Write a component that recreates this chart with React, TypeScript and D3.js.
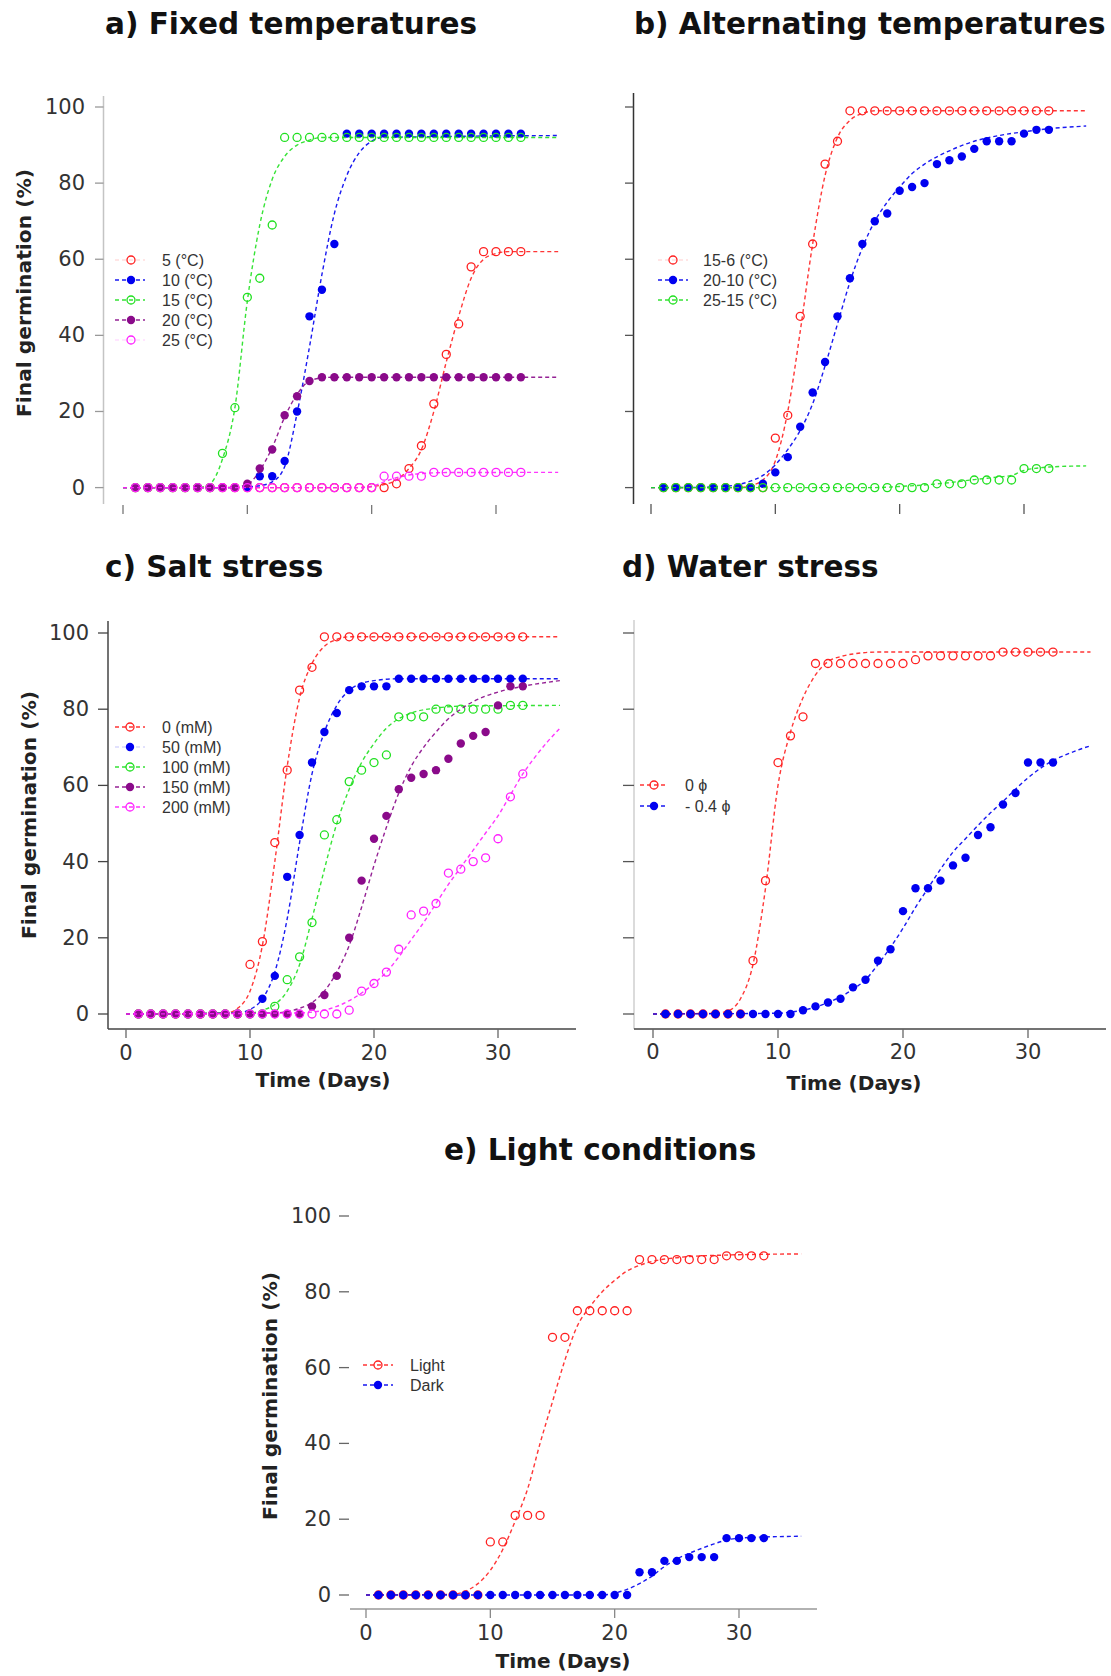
import React, { useLayoutEffect } from 'react'
import * as d3 from 'd3'

// observation days (x of every point)
const days = [1, 2, 3, 4, 5, 6, 7, 8, 9, 10, 11, 12, 13, 14, 15, 16, 17, 18, 19, 20, 21, 22, 23, 24, 25, 26, 27, 28, 29, 30, 31, 32]
const yTicks = [0, 20, 40, 60, 80, 100]
const xTicks = [0, 10, 20, 30]

// a) fixed temperatures
const fixedLabels = ['5 (°C)', '10 (°C)', '15 (°C)', '20 (°C)', '25 (°C)']
const fixed5 = [0, 0, 0, 0, 0, 0, 0, 0, 0, 0, 0, 0, 0, 0, 0, 0, 0, 0, 0, 0, 0, 1, 5, 11, 22, 35, 43, 58, 62, 62, 62, 62]
const fixed10 = [0, 0, 0, 0, 0, 0, 0, 0, 0, 0, 3, 3, 7, 20, 45, 52, 64, 93, 93, 93, 93, 93, 93, 93, 93, 93, 93, 93, 93, 93, 93, 93]
const fixed15 = [0, 0, 0, 0, 0, 0, 0, 9, 21, 50, 55, 69, 92, 92, 92, 92, 92, 92, 92, 92, 92, 92, 92, 92, 92, 92, 92, 92, 92, 92, 92, 92]
const fixed20 = [0, 0, 0, 0, 0, 0, 0, 0, 0, 1, 5, 10, 19, 24, 28, 29, 29, 29, 29, 29, 29, 29, 29, 29, 29, 29, 29, 29, 29, 29, 29, 29]
const fixed25 = [0, 0, 0, 0, 0, 0, 0, 0, 0, 0, 0, 0, 0, 0, 0, 0, 0, 0, 0, 0, 3, 3, 3, 3, 4, 4, 4, 4, 4, 4, 4, 4]
const fitFixed5 = [[0, 0], [19, 0], [20, 0.3], [21, 0.8], [22, 2], [23, 5], [24, 10], [25, 20], [26, 33], [27, 45], [28, 55], [29, 60], [30, 61.5], [31, 62], [35, 62]]
const fitFixed10 = [[0, 0], [9, 0], [10, 0.2], [11, 0.5], [12, 1.5], [13, 5.5], [14, 19.5], [15, 37], [16, 56], [17, 72], [18, 82], [19, 88], [20, 91], [21, 92], [35, 92.5]]
const fitFixed15 = [[0, 0], [6, 0], [7, 1], [8, 7.5], [9, 21], [10, 49], [11, 69], [12, 81], [13, 87], [14, 90], [15, 91.3], [16, 92], [35, 92]]
const fitFixed20 = [[0, 0], [8, 0], [9, 0.2], [10, 0.8], [11, 4.5], [12, 10.5], [13, 18.5], [14, 24.5], [15, 28], [16, 28.8], [17, 29], [35, 29]]
const fitFixed25 = [[0, 0], [19, 0], [20, 0.3], [21, 1.5], [22, 2.6], [23, 3.3], [24, 3.7], [26, 3.95], [35, 4]]

// b) alternating temperatures
const altLabels = ['15-6 (°C)', '20-10 (°C)', '25-15 (°C)']
const alt15 = [0, 0, 0, 0, 0, 0, 0, 0, 0, 13, 19, 45, 64, 85, 91, 99, 99, 99, 99, 99, 99, 99, 99, 99, 99, 99, 99, 99, 99, 99, 99, 99]
const alt20 = [0, 0, 0, 0, 0, 0, 0, 0, 1, 4, 8, 16, 25, 33, 45, 55, 64, 70, 72, 78, 79, 80, 85, 86, 87, 89, 91, 91, 91, 93, 94, 94]
const alt25 = [0, 0, 0, 0, 0, 0, 0, 0, 0, 0, 0, 0, 0, 0, 0, 0, 0, 0, 0, 0, 0, 0, 1, 1, 1, 2, 2, 2, 2, 5, 5, 5]
const fitAlt15 = [[0, 0], [7, 0], [8, 0.5], [9, 2], [10, 7], [11, 20], [12, 41], [13, 64], [14, 82], [15, 92], [16, 96.5], [17, 98.3], [18, 99], [35, 99]]
const fitAlt20 = [[0, 0], [5, 0.1], [6, 0.3], [7, 0.8], [8, 1.7], [9, 3.2], [10, 6], [11, 10], [12, 15], [13, 22], [14, 32], [15, 43], [16, 54], [17, 63], [18, 70], [19, 75], [20, 79], [21, 82.5], [22, 85], [24, 88.5], [26, 91], [28, 92.5], [30, 93.5], [32, 94.3], [35, 95]]
const fitAlt25 = [[0, 0], [18, 0], [20, 0.3], [22, 0.7], [24, 1.3], [26, 2.1], [28, 2.8], [29, 3.2], [30, 4.5], [31, 5.1], [32, 5.4], [35, 5.7]]

// c) salt stress
const saltLabels = ['0 (mM)', '50 (mM)', '100 (mM)', '150 (mM)', '200 (mM)']
const salt0 = [0, 0, 0, 0, 0, 0, 0, 0, 0, 13, 19, 45, 64, 85, 91, 99, 99, 99, 99, 99, 99, 99, 99, 99, 99, 99, 99, 99, 99, 99, 99, 99]
const salt50 = [0, 0, 0, 0, 0, 0, 0, 0, 0, 0, 4, 10, 36, 47, 66, 74, 79, 85, 86, 86, 86, 88, 88, 88, 88, 88, 88, 88, 88, 88, 88, 88]
const salt100 = [0, 0, 0, 0, 0, 0, 0, 0, 0, 0, 0, 2, 9, 15, 24, 47, 51, 61, 64, 66, 68, 78, 78, 78, 80, 80, 80, 80, 80, 80, 81, 81]
const salt150 = [0, 0, 0, 0, 0, 0, 0, 0, 0, 0, 0, 0, 0, 0, 2, 5, 10, 20, 35, 46, 52, 59, 62, 63, 64, 67, 71, 73, 74, 81, 86, 86]
const salt200 = [0, 0, 0, 0, 0, 0, 0, 0, 0, 0, 0, 0, 0, 0, 0, 0, 0, 1, 6, 8, 11, 17, 26, 27, 29, 37, 38, 40, 41, 46, 57, 63]
const fitSalt0 = [[0, 0], [8, 0.2], [9, 1.5], [10, 6], [11, 18], [12, 40], [13, 65], [14, 83], [15, 92], [16, 96.5], [17, 98.3], [18, 99], [35, 99]]
const fitSalt50 = [[0, 0], [9, 0.3], [10, 1.2], [11, 4], [12, 11], [13, 25], [14, 45], [15, 63], [16, 74], [17, 81], [18, 85], [19, 86.8], [20, 87.5], [22, 88], [35, 88]]
const fitSalt100 = [[0, 0], [10, 0.3], [11, 1], [12, 2.5], [13, 6], [14, 13], [15, 25], [16, 38], [17, 50], [18, 59], [19, 66], [20, 71], [21, 75], [22, 77.5], [23, 79], [25, 80.3], [27, 80.8], [35, 81]]
const fitSalt150 = [[0, 0], [12, 0.3], [14, 1.5], [15, 3], [16, 6], [17, 11], [18, 18], [19, 28], [20, 39], [21, 49], [22, 58], [23, 65], [24, 70], [25, 74], [26, 77.5], [27, 80], [28, 82], [30, 84.5], [32, 86], [35, 87.5]]
const fitSalt200 = [[0, 0], [14, 0.3], [16, 1], [17, 2], [18, 3.5], [19, 5.5], [20, 8], [21, 11], [22, 15], [23, 19.5], [24, 24], [25, 29], [26, 34], [27, 38.5], [28, 43], [29, 47.5], [30, 52], [31, 57.5], [32, 63], [33, 67.5], [34, 71.5], [35, 75]]

// d) water stress
const waterLabels = ['0 ϕ', '- 0.4 ϕ']
const water0 = [0, 0, 0, 0, 0, 0, 0, 14, 35, 66, 73, 78, 92, 92, 92, 92, 92, 92, 92, 92, 93, 94, 94, 94, 94, 94, 94, 95, 95, 95, 95, 95]
const water04 = [0, 0, 0, 0, 0, 0, 0, 0, 0, 0, 0, 1, 2, 3, 4, 7, 9, 14, 17, 27, 33, 33, 35, 39, 41, 47, 49, 55, 58, 66, 66, 66]
const fitWater0 = [[0, 0], [5, 0.2], [6, 0.8], [7, 4], [8, 13], [9, 33], [10, 60], [11, 74], [12, 83], [13, 89], [14, 92.5], [15, 93.8], [16, 94.5], [18, 95], [35, 95]]
const fitWater04 = [[0, 0], [10, 0.2], [11, 0.5], [12, 1], [13, 1.8], [14, 3], [15, 4.5], [16, 6.5], [17, 9], [18, 13], [19, 17.5], [20, 22.5], [21, 28], [22, 33], [23, 38], [24, 42.5], [25, 46], [26, 49.5], [27, 52.8], [28, 55.8], [29, 59], [30, 62], [31, 64.5], [32, 66.5], [33, 68], [34, 69.3], [35, 70.4]]

// e) light conditions
const lightLabels = ['Light', 'Dark']
const light = [0, 0, 0, 0, 0, 0, 0, 0, 0, 14, 14, 21, 21, 21, 68, 68, 75, 75, 75, 75, 75, 88.5, 88.5, 88.5, 88.5, 88.5, 88.5, 88.5, 89.5, 89.5, 89.5, 89.5]
const dark = [0, 0, 0, 0, 0, 0, 0, 0, 0, 0, 0, 0, 0, 0, 0, 0, 0, 0, 0, 0, 0, 6, 6, 9, 9, 10, 10, 10, 15, 15, 15, 15]
const fitLight = [[0, 0], [7, 0.2], [8, 1], [9, 3], [10, 6.5], [11, 12], [12, 19.5], [13, 28], [14, 40], [15, 51], [16, 62], [17, 71], [18, 76], [19, 80], [20, 83], [21, 85.5], [22, 87], [23, 88], [25, 89], [28, 89.6], [35, 90]]
const fitDark = [[0, 0], [19, 0], [20, 0.5], [21, 1.5], [22, 3], [23, 5], [24, 7.5], [25, 9.5], [26, 11], [27, 12.3], [28, 13.5], [29, 14.5], [30, 15], [32, 15.3], [35, 15.5]]

const RED = '#ff2020'
const BLUE = '#0000f0'
const GREEN = '#20e020'
const PURPLE = '#8a0a8a'
const MAGENTA = '#ff20ff'

type Series = { label: string; values: number[]; fit: number[][]; color: string; filled: boolean; faint?: boolean }

type PanelDef = {
  title: string
  titleX: number
  titleY: number
  x0: number
  x30: number
  y0: number
  y100: number
  series: Series[]
  legend: { rows: number[]; x1: number; x2: number; sym: number; text: number }
  yAxis?: { x: number; y1: number; y2: number; color: string }
  xAxis?: { y: number; x1: number; x2: number; color: string }
  yTickMarks: { x1: number; x2: number; color: string }
  yTickLabelX?: number
  xTickMarks: { y1: number; y2: number; color: string }
  xTickLabelY?: number
  xTitle?: { x: number; y: number }
  yTitle?: { x: number; y: number }
}

const panels: PanelDef[] = [
  {
    title: 'a) Fixed temperatures', titleX: 105, titleY: 34,
    x0: 123, x30: 496, y0: 487.6, y100: 107,
    series: [
      { label: fixedLabels[0], values: fixed5, fit: fitFixed5, color: RED, filled: false, faint: true },
      { label: fixedLabels[1], values: fixed10, fit: fitFixed10, color: BLUE, filled: true },
      { label: fixedLabels[2], values: fixed15, fit: fitFixed15, color: GREEN, filled: false },
      { label: fixedLabels[3], values: fixed20, fit: fitFixed20, color: PURPLE, filled: true },
      { label: fixedLabels[4], values: fixed25, fit: fitFixed25, color: MAGENTA, filled: false, faint: true }
    ],
    legend: { rows: [260, 280, 300, 320, 340], x1: 115, x2: 145, sym: 131, text: 162 },
    yAxis: { x: 103.5, y1: 96, y2: 504, color: '#c4c4c4' },
    yTickMarks: { x1: 95, x2: 103.5, color: '#999' },
    yTickLabelX: 85,
    xTickMarks: { y1: 505, y2: 514, color: '#777' },
    yTitle: { x: 24, y: 293 }
  },
  {
    title: 'b) Alternating temperatures', titleX: 634, titleY: 34,
    x0: 651, x30: 1024, y0: 487.6, y100: 107,
    series: [
      { label: altLabels[0], values: alt15, fit: fitAlt15, color: RED, filled: false, faint: true },
      { label: altLabels[1], values: alt20, fit: fitAlt20, color: BLUE, filled: true },
      { label: altLabels[2], values: alt25, fit: fitAlt25, color: GREEN, filled: false }
    ],
    legend: { rows: [260, 280, 300], x1: 658, x2: 688, sym: 673, text: 703 },
    yAxis: { x: 633.5, y1: 93, y2: 504, color: '#333' },
    yTickMarks: { x1: 625, x2: 633.5, color: '#555' },
    xTickMarks: { y1: 504, y2: 514, color: '#555' }
  },
  {
    title: 'c) Salt stress', titleX: 105, titleY: 577,
    x0: 126, x30: 498, y0: 1014, y100: 633,
    series: [
      { label: saltLabels[0], values: salt0, fit: fitSalt0, color: RED, filled: false },
      { label: saltLabels[1], values: salt50, fit: fitSalt50, color: BLUE, filled: true, faint: true },
      { label: saltLabels[2], values: salt100, fit: fitSalt100, color: GREEN, filled: false },
      { label: saltLabels[3], values: salt150, fit: fitSalt150, color: PURPLE, filled: true },
      { label: saltLabels[4], values: salt200, fit: fitSalt200, color: MAGENTA, filled: false }
    ],
    legend: { rows: [727, 747, 767, 787, 807], x1: 115, x2: 145, sym: 130, text: 162 },
    yAxis: { x: 108, y1: 621, y2: 1029, color: '#444' },
    xAxis: { y: 1029, x1: 108, x2: 576, color: '#444' },
    yTickMarks: { x1: 98, x2: 108, color: '#444' },
    yTickLabelX: 89,
    xTickMarks: { y1: 1029, y2: 1038, color: '#666' },
    xTickLabelY: 1060,
    xTitle: { x: 323, y: 1087 },
    yTitle: { x: 29.5, y: 815 }
  },
  {
    title: 'd) Water stress', titleX: 622, titleY: 577,
    x0: 653, x30: 1028, y0: 1014, y100: 633,
    series: [
      { label: waterLabels[0], values: water0, fit: fitWater0, color: RED, filled: false },
      { label: waterLabels[1], values: water04, fit: fitWater04, color: BLUE, filled: true }
    ],
    legend: { rows: [785, 806], x1: 640, x2: 668, sym: 654, text: 685 },
    yAxis: { x: 634, y1: 620, y2: 1029, color: '#cfcfcf' },
    xAxis: { y: 1029, x1: 634, x2: 1106, color: '#444' },
    yTickMarks: { x1: 623, x2: 634, color: '#555' },
    xTickMarks: { y1: 1029, y2: 1038, color: '#666' },
    xTickLabelY: 1059,
    xTitle: { x: 854, y: 1090 }
  },
  {
    title: 'e) Light conditions', titleX: 444, titleY: 1160,
    x0: 366, x30: 739, y0: 1595, y100: 1216,
    series: [
      { label: lightLabels[0], values: light, fit: fitLight, color: RED, filled: false },
      { label: lightLabels[1], values: dark, fit: fitDark, color: BLUE, filled: true }
    ],
    legend: { rows: [1365, 1385], x1: 363, x2: 393, sym: 378, text: 410 },
    xAxis: { y: 1609, x1: 350, x2: 817, color: '#999' },
    yTickMarks: { x1: 339, x2: 349, color: '#666' },
    yTickLabelX: 331,
    xTickMarks: { y1: 1609, y2: 1618, color: '#888' },
    xTickLabelY: 1640,
    xTitle: { x: 563, y: 1668 },
    yTitle: { x: 270, y: 1396 }
  }
]

const TICK_FONT = { fontFamily: 'DejaVu Sans, sans-serif', fontSize: 21, fill: '#333' }
const BOLD_FONT = 'DejaVu Sans, Verdana, sans-serif'

function Marker({ cx, cy, color, filled }: { cx: number; cy: number; color: string; filled: boolean }) {
  return filled
    ? <circle cx={cx} cy={cy} r={4.2} fill={color} />
    : <circle cx={cx} cy={cy} r={4} fill="none" stroke={color} strokeWidth={1.3} />
}

function Panel({ p }: { p: PanelDef }) {
  const x = d3.scaleLinear().domain([0, 30]).range([p.x0, p.x30])
  const y = d3.scaleLinear().domain([0, 100]).range([p.y0, p.y100])
  const line = d3.line<number[]>().x(d => x(d[0])).y(d => y(d[1])).curve(d3.curveMonotoneX)

  return (
    <g>
      <text x={p.titleX} y={p.titleY} fontFamily={BOLD_FONT} fontWeight="bold" fontSize={29.5} fill="#111">{p.title}</text>

      {p.yAxis && <line x1={p.yAxis.x} x2={p.yAxis.x} y1={p.yAxis.y1} y2={p.yAxis.y2} stroke={p.yAxis.color} strokeWidth={1.5} />}
      {p.xAxis && <line x1={p.xAxis.x1} x2={p.xAxis.x2} y1={p.xAxis.y} y2={p.xAxis.y} stroke={p.xAxis.color} strokeWidth={1.5} />}

      {yTicks.map(t => (
        <g key={`y${t}`}>
          <line x1={p.yTickMarks.x1} x2={p.yTickMarks.x2} y1={y(t)} y2={y(t)} stroke={p.yTickMarks.color} strokeWidth={1.3} />
          {p.yTickLabelX !== undefined && (
            <text x={p.yTickLabelX} y={y(t)} textAnchor="end" dominantBaseline="central" {...TICK_FONT}>{t}</text>
          )}
        </g>
      ))}
      {xTicks.map(t => (
        <g key={`x${t}`}>
          <line x1={x(t)} x2={x(t)} y1={p.xTickMarks.y1} y2={p.xTickMarks.y2} stroke={p.xTickMarks.color} strokeWidth={1.3} />
          {p.xTickLabelY !== undefined && (
            <text x={x(t)} y={p.xTickLabelY} textAnchor="middle" {...TICK_FONT}>{t}</text>
          )}
        </g>
      ))}

      {p.xTitle && (
        <text x={p.xTitle.x} y={p.xTitle.y} textAnchor="middle" fontFamily={BOLD_FONT} fontWeight="bold" fontSize={19.5} fill="#222"
          textLength={135} lengthAdjust="spacingAndGlyphs">Time (Days)</text>
      )}
      {p.yTitle && (
        <text transform={`translate(${p.yTitle.x},${p.yTitle.y}) rotate(-90)`} textAnchor="middle" dominantBaseline="central"
          fontFamily={BOLD_FONT} fontWeight="bold" fontSize={19.5} fill="#222" textLength={248} lengthAdjust="spacingAndGlyphs">
          Final germination (%)
        </text>
      )}

      {p.series.map(s => (
        <g key={s.label}>
          <path d={line(s.fit) || ''} fill="none" stroke={s.color} strokeWidth={1.4} strokeDasharray="4 3" opacity={0.9} />
          {s.values.map((v, i) => (
            <Marker key={i} cx={x(days[i])} cy={y(v)} color={s.color} filled={s.filled} />
          ))}
        </g>
      ))}

      {p.series.map((s, i) => (
        <g key={`lg${s.label}`}>
          <line x1={p.legend.x1} x2={p.legend.x2} y1={p.legend.rows[i]} y2={p.legend.rows[i]} stroke={s.color}
            strokeWidth={1.4} strokeDasharray="4 3" opacity={s.faint ? 0.15 : 0.9} />
          <Marker cx={p.legend.sym} cy={p.legend.rows[i]} color={s.color} filled={s.filled} />
          <text x={p.legend.text} y={p.legend.rows[i]} dominantBaseline="central" fontFamily="Liberation Sans, Arial, sans-serif"
            fontSize={16} fill="#333">{s.label}</text>
        </g>
      ))}
    </g>
  )
}

export default function App() {
  useLayoutEffect(() => {
    document.body.style.margin = '0'
  }, [])
  return (
    <svg width={1111} height={1676} viewBox="0 0 1111 1676" style={{ display: 'block', background: '#fff' }}>
      <rect x={0} y={0} width={1111} height={1676} fill="#fff" />
      {panels.map(p => <Panel key={p.title} p={p} />)}
    </svg>
  )
}
